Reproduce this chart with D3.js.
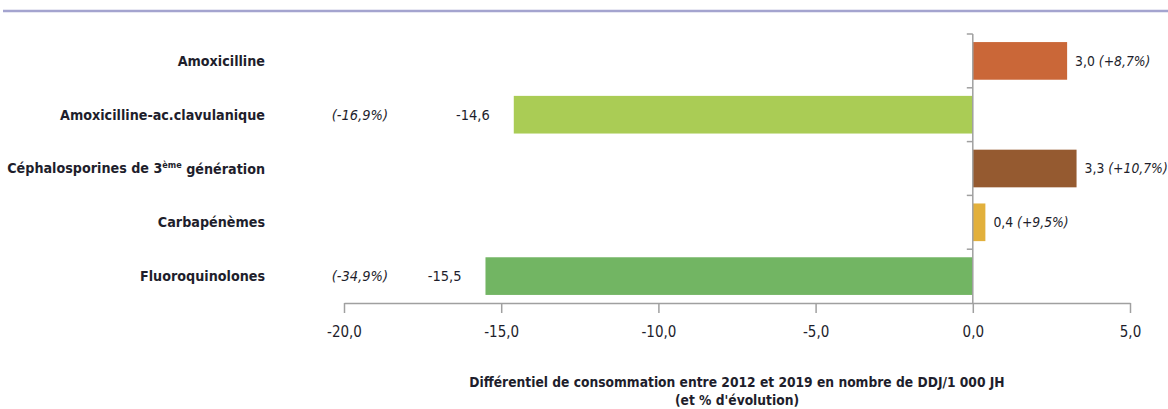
<!DOCTYPE html>
<html>
<head>
<meta charset="utf-8">
<script src="https://cdn.jsdelivr.net/npm/d3@7"></script>
<style>
  body { margin: 0; background: #fff; }
  svg text { font-family: "DejaVu Sans Condensed", "Liberation Sans Narrow", sans-serif; fill: #1e1e2c; }
</style>
</head>
<body>
<div class="chart"></div>
<script>
// données
var categories = ["Amoxicilline", "Amoxicilline-ac.clavulanique", "Céphalosporines de 3ème génération", "Carbapénèmes", "Fluoroquinolones"];
var values = [3.0, -14.6, 3.3, 0.4, -15.5];
var evolutions = ["+8,7%", "-16,9%", "+10,7%", "+9,5%", "-34,9%"];
var colors = ["#ca6738", "#aacc55", "#955a30", "#e2b03c", "#72b563"];
var xTicks = [-20, -15, -10, -5, 0, 5];

var w = 1168;
var h = 409;

var fr = d3.formatLocale({decimal: ",", thousands: " ", grouping: [3], currency: ["", " €"], minus: "-"});
var fmt = fr.format(".1f");

var svg = d3.select(".chart").append("svg")
  .attr("width", w)
  .attr("height", h);

// filet du haut
svg.append("line")
  .attr("x1", 3).attr("x2", w)
  .attr("y1", 11).attr("y2", 11)
  .attr("stroke", "#a4a4cf")
  .attr("stroke-width", 2.5);

var x = d3.scaleLinear().domain([-20, 5]).range([344, 1130]);
var y = d3.scaleBand().domain(categories).range([34, 303]).paddingInner(0.3).paddingOuter(0.15);

var data = categories.map(function(c, i) {
  return {cat: c, value: values[i], evo: evolutions[i], color: colors[i]};
});

// barres
svg.selectAll("rect.bar")
  .data(data)
  .enter()
    .append("rect")
    .attr("class", "bar")
    .attr("x", function(d) { return x(Math.min(0, d.value)); })
    .attr("y", function(d) { return y(d.cat); })
    .attr("width", function(d) { return Math.abs(x(d.value) - x(0)); })
    .attr("height", y.bandwidth())
    .attr("fill", function(d) { return d.color; });

// axe horizontal
var xAxis = svg.append("g")
  .attr("transform", "translate(0,303)")
  .call(d3.axisBottom(x).tickValues(xTicks).tickSize(10).tickSizeOuter(0).tickPadding(13).tickFormat(fmt));
xAxis.select(".domain").attr("stroke", "#a0a0a0").attr("stroke-width", 1.5);
xAxis.selectAll(".tick line").attr("stroke", "#a0a0a0").attr("stroke-width", 1.5);
xAxis.selectAll(".tick text").attr("font-size", 15).attr("fill", "#1e1e2c").style("font-family", null);

// axe vertical au zéro
var step = y.step();
var bounds = d3.range(categories.length + 1).map(function(i) { return y.range()[0] + i * step; });
svg.append("line")
  .attr("x1", x(0)).attr("x2", x(0))
  .attr("y1", bounds[0]).attr("y2", bounds[bounds.length - 1])
  .attr("stroke", "#a0a0a0").attr("stroke-width", 1.5);
svg.selectAll("line.ytick")
  .data(bounds.slice(0, -1))
  .enter()
    .append("line")
    .attr("class", "ytick")
    .attr("x1", x(0) - 6).attr("x2", x(0))
    .attr("y1", function(d) { return d; }).attr("y2", function(d) { return d; })
    .attr("stroke", "#a0a0a0").attr("stroke-width", 1.5);

// libellés des catégories
var catLabels = svg.selectAll("text.cat")
  .data(data)
  .enter()
    .append("text")
    .attr("class", "cat")
    .attr("x", 265)
    .attr("y", function(d) { return y(d.cat) + y.bandwidth() / 2; })
    .attr("dy", "0.35em")
    .attr("text-anchor", "end")
    .attr("font-size", 14.2)
    .attr("font-weight", "bold");
catLabels.each(function(d) {
  var t = d3.select(this);
  var m = d.cat.match(/^(.*\d)(ème)(.*)$/);
  if (m) {
    t.append("tspan").text(m[1]);
    t.append("tspan").attr("font-size", 9).attr("dy", "-0.6em").text(m[2]);
    t.append("tspan").attr("dy", "0.4em").text(m[3]);
  } else {
    t.text(d.cat);
  }
});

// étiquettes de valeurs
var valLabels = svg.selectAll("text.val")
  .data(data)
  .enter()
    .append("text")
    .attr("class", "val")
    .attr("y", function(d) { return y(d.cat) + y.bandwidth() / 2; })
    .attr("dy", "0.35em")
    .attr("font-size", 14.5);
valLabels.filter(function(d) { return d.value >= 0; })
  .attr("x", function(d) { return x(d.value) + 8; })
  .attr("font-size", 13.8)
  .each(function(d) {
    var t = d3.select(this);
    t.append("tspan").text(fmt(d.value) + " ");
    t.append("tspan").attr("font-style", "italic").text("(" + d.evo + ")");
  });
valLabels.filter(function(d) { return d.value < 0; })
  .attr("x", function(d) { return x(d.value) - 24; })
  .attr("text-anchor", "end")
  .text(function(d) { return fmt(d.value); });

svg.selectAll("text.evo")
  .data(data.filter(function(d) { return d.value < 0; }))
  .enter()
    .append("text")
    .attr("class", "evo")
    .attr("x", 388)
    .attr("y", function(d) { return y(d.cat) + y.bandwidth() / 2; })
    .attr("dy", "0.35em")
    .attr("text-anchor", "end")
    .attr("font-size", 14.5)
    .attr("font-style", "italic")
    .text(function(d) { return "(" + d.evo + ")"; });

// titre de l'axe
var xMid = (x.range()[0] + x.range()[1]) / 2;
svg.append("text")
  .attr("x", xMid).attr("y", 387)
  .attr("text-anchor", "middle")
  .attr("font-size", 13.7)
  .attr("font-weight", "bold")
  .text("Différentiel de consommation entre 2012 et 2019 en nombre de DDJ/1 000 JH");
svg.append("text")
  .attr("x", xMid).attr("y", 405)
  .attr("text-anchor", "middle")
  .attr("font-size", 13.7)
  .attr("font-weight", "bold")
  .text("(et % d'évolution)");
</script>
</body>
</html>
